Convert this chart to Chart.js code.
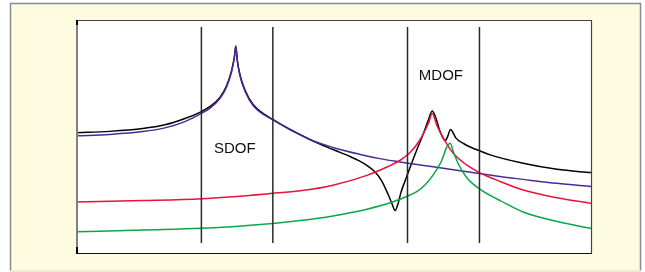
<!DOCTYPE html>
<html>
<head>
<meta charset="utf-8">
<script src="https://cdn.jsdelivr.net/npm/chart.js@4"></script>
<style>
  body { margin: 0; background: #fff; }
  canvas { display: block; }
</style>
</head>
<body>
<canvas id="chart" width="645" height="272"></canvas>
<script>
// frequency axis 0..100, amplitude axis 0..100
const totalFreq = [0, 6.4, 12.8, 17.1, 21.0, 24.1, 25.9, 27.8, 29.1, 30.1, 30.6, 30.9, 31.2, 31.7, 32.7, 34.3, 38.1, 45.3, 49.8, 53.1, 55.1, 56.6, 58.0, 59.3, 60.5, 61.3, 61.9, 62.5, 63.0, 63.6, 64.4, 65.2, 66.1, 67.4, 68.3, 69.1, 69.75, 70.6, 71.4, 71.7, 72.0, 72.7, 73.2, 73.7, 75.2, 76.5, 78.3, 80.4, 86.8, 93.4, 100];
const totalAmp = [51.6, 52.2, 53.4, 55.0, 57.7, 60.6, 62.9, 66.8, 71.8, 78.5, 84.0, 88.8, 82.5, 76.5, 69.8, 63.6, 57.3, 48.7, 44.4, 41.4, 39.3, 37.3, 34.8, 30.9, 25.3, 21.0, 18.2, 21.5, 25.8, 29.6, 34.3, 39.1, 44.2, 51.3, 56.7, 60.9, 58.4, 52.4, 48.7, 48.3, 49.4, 53.0, 51.5, 49.4, 47.0, 45.5, 43.9, 42.1, 38.5, 35.9, 34.5];

const mode1Freq = [0, 6.4, 12.8, 17.1, 21.0, 24.1, 25.9, 27.8, 29.1, 30.1, 30.6, 30.9, 31.2, 31.7, 32.7, 34.3, 38.1, 45.3, 49.8, 55.1, 58.9, 62.8, 69.3, 75.9, 82.3, 86.8, 93.4, 100];
const mode1Amp = [50.3, 50.9, 52.1, 53.7, 56.4, 59.8, 62.2, 66.3, 71.3, 78.0, 83.6, 88.4, 82.2, 76.2, 69.4, 63.2, 57.1, 48.7, 45.3, 42.3, 40.5, 39.1, 37.0, 34.9, 32.8, 31.6, 29.9, 28.5];

const mode2Freq = [0, 12.8, 24.3, 38.1, 43.4, 49.8, 56.4, 60.3, 62.8, 64.8, 66.7, 68.4, 69.1, 70.0, 71.3, 73.2, 75.8, 78.3, 82.3, 86.8, 93.4, 100];
const mode2Amp = [21.9, 22.5, 23.3, 25.6, 26.7, 29.1, 33.3, 36.9, 39.7, 43.1, 48.5, 55.8, 59.9, 54.9, 49.2, 42.8, 37.8, 34.5, 30.7, 27.0, 23.7, 21.3];

const mode3Freq = [0, 12.8, 24.3, 38.1, 43.4, 49.8, 56.4, 61.5, 64.8, 66.1, 67.7, 69.3, 71.0, 71.9, 72.6, 73.2, 74.2, 75.8, 78.3, 80.4, 82.3, 86.8, 93.4, 100];
const mode3Amp = [9.1, 9.9, 10.6, 12.7, 13.9, 15.9, 18.8, 22.0, 24.9, 26.3, 29.2, 33.5, 39.9, 45.3, 47.1, 43.6, 38.2, 32.4, 27.5, 24.7, 22.5, 17.6, 13.5, 10.6];

const bandLines = [24.2, 38.1, 64.3, 78.3];
const bandLineRange = [4.3, 97.0];

const labels = ['SDOF', 'MDOF'];
const labelFreq = [30.7, 70.8];
const labelAmp = [44.6, 76.0];

function pts(xs, ys) {
    return xs.map((x, i) => ({ x: x, y: ys[i] }));
}

const curve = (data, color) => ({
    data: data,
    borderColor: color,
    borderWidth: 1.5,
    pointRadius: 0,
    fill: false,
    cubicInterpolationMode: 'monotone'
});

const datasets = [];
bandLines.forEach(f => {
    datasets.push({
        data: [{ x: f, y: bandLineRange[0] }, { x: f, y: bandLineRange[1] }],
        borderColor: '#2a2a2a',
        borderWidth: 1.5,
        pointRadius: 0
    });
});
datasets.push(curve(pts(mode3Freq, mode3Amp), '#0aa64a'));
datasets.push(curve(pts(mode2Freq, mode2Amp), '#e8123c'));
datasets.push(curve(pts(mode1Freq, mode1Amp), '#4a2a96'));
datasets.push(curve(pts(totalFreq, totalAmp), '#000000'));

const frame = {
    id: 'frame',
    beforeDraw(chart) {
        const c = chart.ctx, a = chart.chartArea;
        c.save();
        c.fillStyle = '#ffffff';
        c.fillRect(0, 0, chart.width, chart.height);
        c.fillStyle = '#fdfbe0';
        c.fillRect(10, 3, 631, 268);
        c.strokeStyle = '#8a8a8a';
        c.lineWidth = 1.5;
        c.beginPath();
        c.moveTo(10.5, 271);
        c.lineTo(10.5, 3.5);
        c.lineTo(640.5, 3.5);
        c.lineTo(640.5, 271);
        c.stroke();
        c.strokeStyle = '#e6e4cc';
        c.beginPath();
        c.moveTo(10, 271);
        c.lineTo(641, 271);
        c.stroke();
        c.fillStyle = '#ffffff';
        c.fillRect(a.left, a.top, a.right - a.left, a.bottom - a.top);
        c.restore();
    },
    afterDraw(chart) {
        const c = chart.ctx, a = chart.chartArea;
        const xs = chart.scales.x, ys = chart.scales.y;
        c.save();
        c.strokeStyle = '#444';
        c.lineWidth = 1.2;
        c.beginPath();
        c.moveTo(a.left, a.top + 0.5);
        c.lineTo(a.right + 0.5, a.top + 0.5);
        c.lineTo(a.right + 0.5, a.bottom);
        c.stroke();
        c.strokeStyle = '#111';
        c.beginPath();
        c.moveTo(a.left, a.bottom + 0.5);
        c.lineTo(a.right + 1, a.bottom + 0.5);
        c.stroke();
        c.strokeStyle = '#808080';
        c.lineWidth = 2;
        c.beginPath();
        c.moveTo(a.left, a.top);
        c.lineTo(a.left, a.bottom + 1);
        c.stroke();
        c.strokeStyle = '#000';
        c.beginPath();
        c.moveTo(a.left, a.top);
        c.lineTo(a.left, a.top + 5);
        c.moveTo(a.left, a.bottom - 6);
        c.lineTo(a.left, a.bottom + 1);
        c.stroke();

        c.fillStyle = '#111';
        c.font = '15px "Liberation Sans", Arial, sans-serif';
        c.textAlign = 'center';
        c.textBaseline = 'middle';
        labels.forEach((t, i) => {
            c.fillText(t, xs.getPixelForValue(labelFreq[i]), ys.getPixelForValue(labelAmp[i]));
        });
        c.restore();
    }
};

new Chart(document.getElementById('chart').getContext('2d'), {
    type: 'line',
    data: { datasets: datasets },
    options: {
        responsive: false,
        animation: false,
        devicePixelRatio: 1,
        layout: { padding: { left: 77, top: 20, right: 54, bottom: 19 } },
        scales: {
            x: { type: 'linear', min: 0, max: 100, display: false },
            y: { min: 0, max: 100, display: false }
        },
        plugins: {
            legend: { display: false },
            tooltip: { enabled: false }
        }
    },
    plugins: [frame]
});
</script>
</body>
</html>
